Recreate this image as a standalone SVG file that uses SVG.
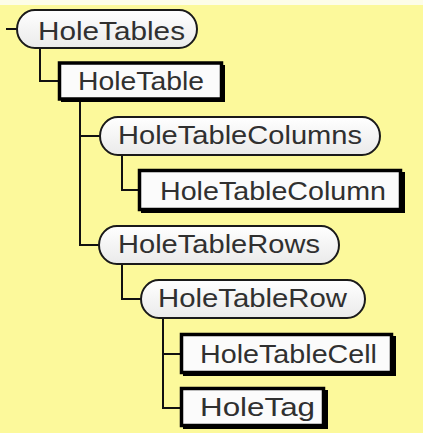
<svg xmlns="http://www.w3.org/2000/svg" width="423" height="433" viewBox="0 0 423 433">
<defs>
<linearGradient id="pg" x1="0" y1="0" x2="0" y2="1">
<stop offset="0" stop-color="#ffffff"/>
<stop offset="1" stop-color="#eaeaea"/>
</linearGradient>
<style>
.pill{fill:url(#pg);stroke:#1a1a1a;stroke-width:2}
.box{fill:#fbfbfb;stroke:#000;stroke-width:3.5}
.shadow{fill:#000}
.lbl{font-family:"Liberation Sans",Arial,sans-serif;font-size:25px;fill:#303030}
.conn{fill:none;stroke:#111;stroke-width:2}
</style>
</defs>
<rect x="0" y="0" width="423" height="433" fill="#fcf99b"/>
<rect x="0" y="0" width="423" height="5" fill="#fdfde8"/>
<g id="connectors">
<path class="conn" d="M6 29H17"/>
<path class="conn" d="M40 48V81H59"/>
<path class="conn" d="M80 100V245H99M80 136H100"/>
<path class="conn" d="M122 155V190H140"/>
<path class="conn" d="M122 264V299H141"/>
<path class="conn" d="M163 318V408H181M163 354H181"/>
</g>
<g id="n-HoleTables">
<rect class="pill" x="17" y="10" width="180" height="38" rx="18" ry="19"/>
<text class="lbl" x="38" y="40" textLength="147" lengthAdjust="spacingAndGlyphs">HoleTables</text>
</g>
<g id="n-HoleTable">
<rect class="shadow" x="61" y="65" width="164" height="37"/>
<rect class="box" x="59.5" y="63" width="162" height="36"/>
<text class="lbl" x="78" y="90" textLength="126" lengthAdjust="spacingAndGlyphs">HoleTable</text>
</g>
<g id="n-HoleTableColumns">
<rect class="pill" x="100" y="117" width="280" height="38" rx="18" ry="19"/>
<text class="lbl" x="118" y="144" textLength="244" lengthAdjust="spacingAndGlyphs">HoleTableColumns</text>
</g>
<g id="n-HoleTableColumn">
<rect class="shadow" x="141" y="172" width="264" height="41"/>
<rect class="box" x="139.5" y="170.5" width="261" height="39"/>
<text class="lbl" x="160" y="200" textLength="226" lengthAdjust="spacingAndGlyphs">HoleTableColumn</text>
</g>
<g id="n-HoleTableRows">
<rect class="pill" x="99" y="226" width="240" height="38" rx="18" ry="19"/>
<text class="lbl" x="118" y="253" textLength="202" lengthAdjust="spacingAndGlyphs">HoleTableRows</text>
</g>
<g id="n-HoleTableRow">
<rect class="pill" x="141" y="280" width="224" height="38" rx="18" ry="19"/>
<text class="lbl" x="158" y="307" textLength="189" lengthAdjust="spacingAndGlyphs">HoleTableRow</text>
</g>
<g id="n-HoleTableCell">
<rect class="shadow" x="183" y="336" width="213" height="40"/>
<rect class="box" x="181.5" y="334.5" width="210" height="38"/>
<text class="lbl" x="200" y="363" textLength="177" lengthAdjust="spacingAndGlyphs">HoleTableCell</text>
</g>
<g id="n-HoleTag">
<rect class="shadow" x="183" y="390" width="145" height="39"/>
<rect class="box" x="181.5" y="388.5" width="142" height="37"/>
<text class="lbl" x="200" y="416" textLength="115" lengthAdjust="spacingAndGlyphs">HoleTag</text>
</g>
</svg>
